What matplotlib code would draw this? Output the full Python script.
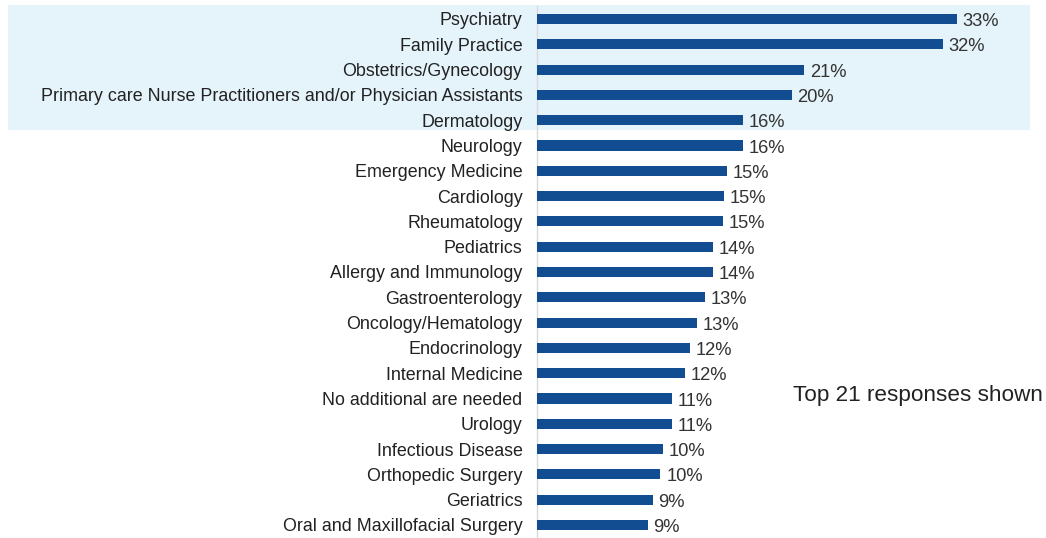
import matplotlib
matplotlib.use("Agg")
import matplotlib.pyplot as plt
import matplotlib.transforms as mtransforms
from matplotlib.patches import Rectangle

categories = [
    "Psychiatry", "Family Practice", "Obstetrics/Gynecology",
    "Primary care Nurse Practitioners and/or Physician Assistants",
    "Dermatology", "Neurology", "Emergency Medicine", "Cardiology",
    "Rheumatology", "Pediatrics", "Allergy and Immunology", "Gastroenterology",
    "Oncology/Hematology", "Endocrinology", "Internal Medicine",
    "No additional are needed", "Urology", "Infectious Disease",
    "Orthopedic Surgery", "Geriatrics", "Oral and Maxillofacial Surgery",
]
values = [33.0, 31.9, 21.0, 20.0, 16.2, 16.2, 14.9, 14.7, 14.6, 13.8, 13.8,
          13.2, 12.6, 12.0, 11.6, 10.6, 10.6, 9.9, 9.7, 9.1, 8.7]
value_labels = ["33%", "32%", "21%", "20%", "16%", "16%", "15%", "15%", "15%",
                "14%", "14%", "13%", "13%", "12%", "12%", "11%", "11%", "10%",
                "10%", "9%", "9%"]
highlight_count = 5
note = "Top 21 responses shown"

plt.rcParams["font.family"] = ["Liberation Sans", "DejaVu Sans"]

W, H = 1046, 538
fig = plt.figure(figsize=(W / 100, H / 100), dpi=100)
ax = fig.add_axes([537 / W, 0.0007, 1 - 537 / W, 0.9875])
ax.patch.set_alpha(0)

y = list(range(len(categories)))
ax.barh(y, values, height=0.4, color="#124d91", zorder=3)
ax.set_ylim(len(categories) - 0.5, -0.5)
ax.set_xlim(0, 40)

for yi, v, lab in zip(y, values, value_labels):
    ax.text(v + 0.45, yi + 0.1, lab, va="center", ha="left",
            fontsize=13.2, color="#333333")

ax.set_yticks(y)
ax.set_yticklabels(categories, fontsize=12.85, color="#222222")
ax.tick_params(axis="y", length=0, pad=10.5)
ax.set_xticks([])
for s in ["top", "right", "bottom"]:
    ax.spines[s].set_visible(False)
ax.spines["left"].set_color("#d9d9d9")
ax.spines["left"].set_linewidth(1)

trans = mtransforms.blended_transform_factory(fig.transFigure, ax.transData)
rect = Rectangle((8 / W, -0.55), (1030 - 8) / W, highlight_count - 0.55 + 0.5,
                 transform=trans, facecolor="#e5f3fb", edgecolor="none",
                 zorder=0, clip_on=False)
ax.add_patch(rect)

fig.text(793 / W, 1 - 396 / H, note, fontsize=16.2, color="#222222",
         va="center", ha="left")

fig.savefig("out.png", dpi=100, facecolor="white")
